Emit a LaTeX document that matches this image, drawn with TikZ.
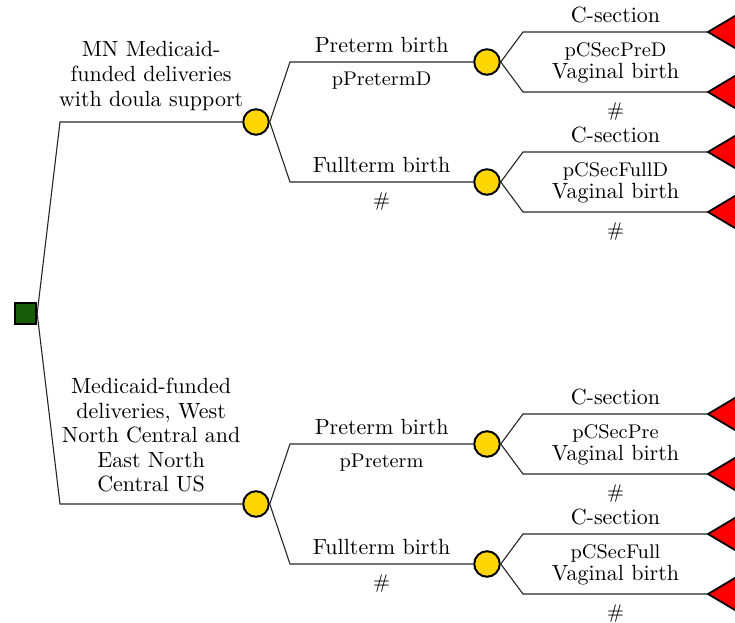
\documentclass[tikz,border=0pt]{standalone}
\definecolor{chanceyellow}{RGB}{255,214,0}
\definecolor{decgreen}{RGB}{24,92,10}
\definecolor{termred}{RGB}{250,0,0}
\begin{document}
\begin{tikzpicture}[x=0.4545pt,y=-0.4545pt,
  every node/.style={font=\fontsize{10}{11.2}\selectfont},
  conn/.style={draw=black!85, line width=0.5pt},
  chance/.style={circle, draw=black, line width=0.9pt, fill=chanceyellow, minimum size=11.6pt, inner sep=0pt},
  decision/.style={rectangle, draw=black, line width=0.8pt, fill=decgreen, minimum size=9.8pt, inner sep=0pt},
  terminal/.style={draw=black, line width=0.8pt, fill=termred},
  toplabel/.style={above, align=center, inner sep=5pt},
  edgeabove/.style={above, inner sep=4pt},
  edgebelow/.style={below, inner sep=4.5pt, font=\fontsize{9}{10}\selectfont}
]
\clip (0,0) rectangle (735,623);

% decision node
\node[decision] (dec) at (25.5,313.5) {};

% first-level corners and chance nodes
\coordinate (k1) at (60,122);
\coordinate (k2) at (60,504);
\node[chance] (c1) at (256,122) {};
\node[chance] (c2) at (256,504) {};

% second-level corners and chance nodes
\coordinate (k11) at (290,62);
\coordinate (k12) at (290,182);
\coordinate (k21) at (290,444);
\coordinate (k22) at (290,564);
\node[chance] (c11) at (487,62) {};
\node[chance] (c12) at (487,182) {};
\node[chance] (c21) at (487,444) {};
\node[chance] (c22) at (487,564) {};

% third-level corners and terminal tips
\foreach \n/\y in {111/32,112/92,121/152,122/212,211/414,212/474,221/534,222/594}{
  \coordinate (k\n) at (523,\y);
  \coordinate (t\n) at (708,\y);
}

% terminal triangles
\foreach \n in {111,112,121,122,211,212,221,222}{
  \draw[terminal] (t\n) -- ++(42,-25) -- ++(0,50) -- cycle;
}

% first-level connectors
\draw[conn] (dec.east) -- (k1) -- node[toplabel] (l1) {MN Medicaid-\\funded deliveries\\with doula support} (c1);
\draw[conn] (dec.east) -- (k2) -- node[toplabel] (l2) {Medicaid-funded\\deliveries, West\\North Central and\\East North\\Central US} (c2);

% second-level connectors
\draw[conn] (c1.east) -- (k11) -- node[edgeabove] (l11a) {Preterm birth} node[edgebelow] (l11b) {pPretermD} (c11);
\draw[conn] (c1.east) -- (k12) -- node[edgeabove] (l12a) {Fullterm birth} node[edgebelow] (l12b) {\#} (c12);
\draw[conn] (c2.east) -- (k21) -- node[edgeabove] (l21a) {Preterm birth} node[edgebelow] (l21b) {pPreterm} (c21);
\draw[conn] (c2.east) -- (k22) -- node[edgeabove] (l22a) {Fullterm birth} node[edgebelow] (l22b) {\#} (c22);

% third-level connectors
\draw[conn] (c11.east) -- (k111) -- node[edgeabove] (l111a) {C-section} node[edgebelow] (l111b) {pCSecPreD} (t111);
\draw[conn] (c11.east) -- (k112) -- node[edgeabove] (l112a) {Vaginal birth} node[edgebelow] (l112b) {\#} (t112);
\draw[conn] (c12.east) -- (k121) -- node[edgeabove] (l121a) {C-section} node[edgebelow] (l121b) {pCSecFullD} (t121);
\draw[conn] (c12.east) -- (k122) -- node[edgeabove] (l122a) {Vaginal birth} node[edgebelow] (l122b) {\#} (t122);
\draw[conn] (c21.east) -- (k211) -- node[edgeabove] (l211a) {C-section} node[edgebelow] (l211b) {pCSecPre} (t211);
\draw[conn] (c21.east) -- (k212) -- node[edgeabove] (l212a) {Vaginal birth} node[edgebelow] (l212b) {\#} (t212);
\draw[conn] (c22.east) -- (k221) -- node[edgeabove] (l221a) {C-section} node[edgebelow] (l221b) {pCSecFull} (t221);
\draw[conn] (c22.east) -- (k222) -- node[edgeabove] (l222a) {Vaginal birth} node[edgebelow] (l222b) {\#} (t222);
\end{tikzpicture}
\end{document}
